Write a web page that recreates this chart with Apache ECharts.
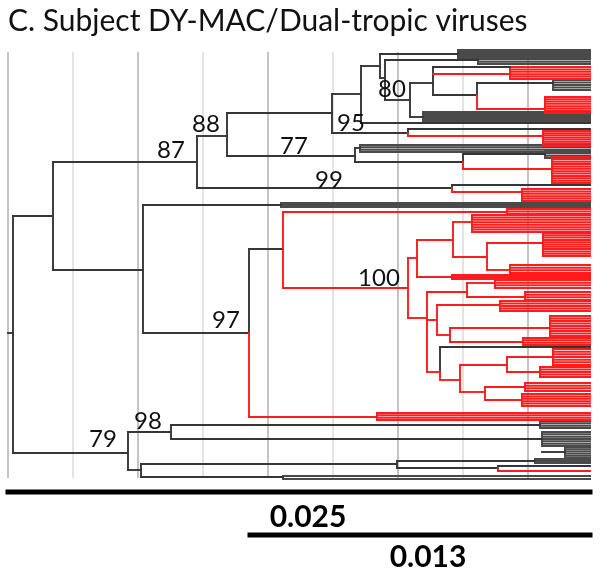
<!DOCTYPE html>
<html><head><meta charset="utf-8">
<script src="https://cdn.jsdelivr.net/npm/echarts@6/dist/echarts.min.js"></script>
<style>html,body{margin:0;padding:0;background:#fff}#c{width:601px;height:575px}</style>
</head><body><div id="c"></div>
<script>
// ---- data (x = genetic distance in axis units, y = leaf order position) ----
const titleText = 'C. Subject DY-MAC/Dual-tropic viruses';
const tipX = 582;

// horizontal branches [xStart, xEnd, y]
const blackBranches = [
  [0,5,333],[5,45,216],[45,189,162],[189,219,136],[219,324,113],[324,353,94],
  [353,372,66],[372,450,54],[372,377,78],[377,470,60],[377,402,100],[402,425,83],
  [425,502,67],[425,469,95],[469,545,83],[402,415,117],[353,582,123],[324,400,133],
  [400,582,129],[219,347,156],[347,352,148],[347,455,162],[455,537,154],
  [189,444,188],[444,582,185],[45,135,270],[135,273,205],[135,241,333],[241,275,249],
  [432,582,347],
  [5,120,453],[120,163,432],[163,532,425],[163,534,439],[534,557,452],
  [120,133,470],[133,389,464],[389,527,461],[389,490,468],[490,582,466],[133,275,477]
];
// vertical connectors [x, yTop, yBottom]
const blackConnectors = [
  [5,216,453],[45,162,270],[189,136,188],[219,113,156],[324,94,133],[353,66,123],
  [372,54,78],[377,60,100],[402,83,117],[425,67,95],[469,83,95],[400,129,133],
  [347,148,162],[455,154,162],[444,185,188],[135,205,333],[241,249,333],[432,347,372],
  [120,432,470],[163,425,439],[133,464,477],[389,461,468],[490,466,468]
];
const redBranches = [
  [425,502,74],[469,537,109],[400,535,136],[455,544,169],[444,514,192],
  [275,499,212],[275,400,288],[400,409,258],[409,445,240],[445,464,222],
  [445,479,257],[479,535,243],[479,502,270],[409,444,277],[400,419,318],
  [419,459,292],[459,487,283],[459,517,297],[419,429,320],[429,492,305],
  [429,442,335],[442,542,328],[442,515,342],[419,432,372],[432,452,380],
  [452,499,365],[499,545,357],[499,532,372],[452,477,392],[477,517,387],
  [477,514,400],[241,369,417],[490,582,471]
];
const redConnectors = [
  [469,95,109],[400,133,136],[455,162,169],[444,188,192],[241,333,417],
  [275,212,288],[400,258,318],[409,240,277],[445,222,257],[479,243,270],
  [419,292,372],[459,283,297],[429,305,335],[442,328,342],[432,372,380],
  [452,365,392],[499,357,372],[477,387,400],[490,468,471]
];
// terminal clades [nodeX, firstLeafY, lastLeafY, leafCount]
const blackClades = [
  [450,50,58,5],[470,57,64,4],[545,80,90,5],[415,112,122,6],[352,145,152,4],
  [537,151,158,4],[273,203,207,3],[532,421,428,4],[534,432,446,7],[557,447,458,6],
  [527,459,463,3],[275,476,479,2]
];
const redClades = [
  [502,67,79,6],[537,97,113,8],[535,131,146,8],[544,157,183,12],[514,189,201,6],
  [499,209,214,3],[464,215,232,8],[535,233,256,11],[502,265,273,4],[444,275,279,3],
  [487,280,288,4],[517,292,300,4],[492,301,311,5],[542,316,336,9],[515,338,345,4],
  [545,349,365,7],[532,367,377,5],[517,383,391,4],[514,394,406,6],[369,413,420,4]
];
// bootstrap support labels
const bootValues = ['87','88','77','95','80','99','100','97','98','79'];
const bootX = [163,198,286,343,384,321,371,218,140,95];
const bootY = [150,124,146,123,89,180,278,320,421,439];
// scale bars
const scaleValues = ['0.025','0.013'];
const scaleFrom = [0,242];
const scaleTo = [582,582];
const scaleY = [492,535];
const scaleLabelX = [300,420];
const scaleLabelY = [517,557];

// ---- build segment lists ----
function branchSegs(branches, connectors) {
  const out = [];
  branches.forEach(b => out.push([b[0], b[2], b[1], b[2]]));
  connectors.forEach(c => out.push([c[0], c[1], c[0], c[2]]));
  return out;
}
function cladeSegs(clades) {
  const out = [];
  clades.forEach(c => {
    out.push([c[0], c[1], c[0], c[2]]);
    for (let i = 0; i < c[3]; i++) {
      const y = c[1] + (c[2] - c[1]) * i / (c[3] - 1);
      out.push([c[0], y, tipX, y]);
    }
  });
  return out;
}
function lineRender(color, width) {
  return function (params, api) {
    const p0 = api.coord([api.value(0), api.value(1)]);
    const p1 = api.coord([api.value(2), api.value(3)]);
    return { type: 'line', shape: { x1: p0[0], y1: p0[1], x2: p1[0], y2: p1[1] },
      style: { stroke: color, lineWidth: width, lineCap: 'square' } };
  };
}
function segSeries(data, color, width, z) {
  return { type: 'custom', data: data, encode: { x: [0, 2], y: [1, 3] }, clip: false,
    silent: true, z: z, renderItem: lineRender(color, width) };
}
const BLACK = '#363636', LEAFBLACK = '#4a4a4a', RED = '#ff1c1c';

const chart = echarts.init(document.getElementById('c'), null, { renderer: 'canvas' });
chart.setOption({
  animation: false,
  backgroundColor: '#fff',
  title: { text: titleText, left: 3, top: 1,
    textStyle: { fontFamily: 'Lato', fontSize: 30, fontWeight: 'normal', color: '#111' } },
  grid: { left: 8, right: 11, top: 52, bottom: 97 },
  xAxis: { type: 'value', min: 0, max: 582, interval: 130,
    axisLine: { show: false }, axisTick: { show: false }, axisLabel: { show: false },
    splitLine: { show: true, showMaxLine: false, lineStyle: { color: '#b0b0b0', width: 1.5 } },
    minorTick: { show: false, splitNumber: 2 },
    minorSplitLine: { show: true, lineStyle: { color: '#dcdcdc', width: 1.5 } } },
  yAxis: { type: 'value', min: 52, max: 478, inverse: true, show: false },
  series: [
    segSeries(cladeSegs(blackClades), LEAFBLACK, 2, 2),
    segSeries(cladeSegs(redClades), RED, 2, 2),
    segSeries(branchSegs(blackBranches, blackConnectors), BLACK, 1.9, 3),
    segSeries(branchSegs(redBranches, redConnectors), RED, 1.9, 3),
    { type: 'custom', clip: false, silent: true, z: 4,
      data: scaleValues.map((v, i) => [scaleFrom[i], scaleY[i], scaleTo[i], scaleY[i]]),
      encode: { x: [0, 2], y: [1, 3] }, renderItem: lineRender('#000', 5) },
    { type: 'custom', clip: false, silent: true, z: 5,
      data: scaleValues.map((v, i) => [scaleLabelX[i], scaleLabelY[i]]),
      renderItem: function (params, api) {
        const p = api.coord([api.value(0), api.value(1)]);
        return { type: 'text', x: p[0], y: p[1], style: { text: scaleValues[params.dataIndex],
          fill: '#000', fontFamily: 'Lato', fontWeight: 'bold', fontSize: 30,
          align: 'center', verticalAlign: 'middle' } };
      } },
    { type: 'custom', clip: false, silent: true, z: 6,
      data: bootValues.map((v, i) => [bootX[i], bootY[i]]),
      renderItem: function (params, api) {
        const p = api.coord([api.value(0), api.value(1)]);
        return { type: 'text', x: p[0], y: p[1], style: { text: bootValues[params.dataIndex],
          fill: '#111', fontFamily: 'Lato', fontSize: 24,
          align: 'center', verticalAlign: 'middle' } };
      } }
  ]
});
</script></body></html>
